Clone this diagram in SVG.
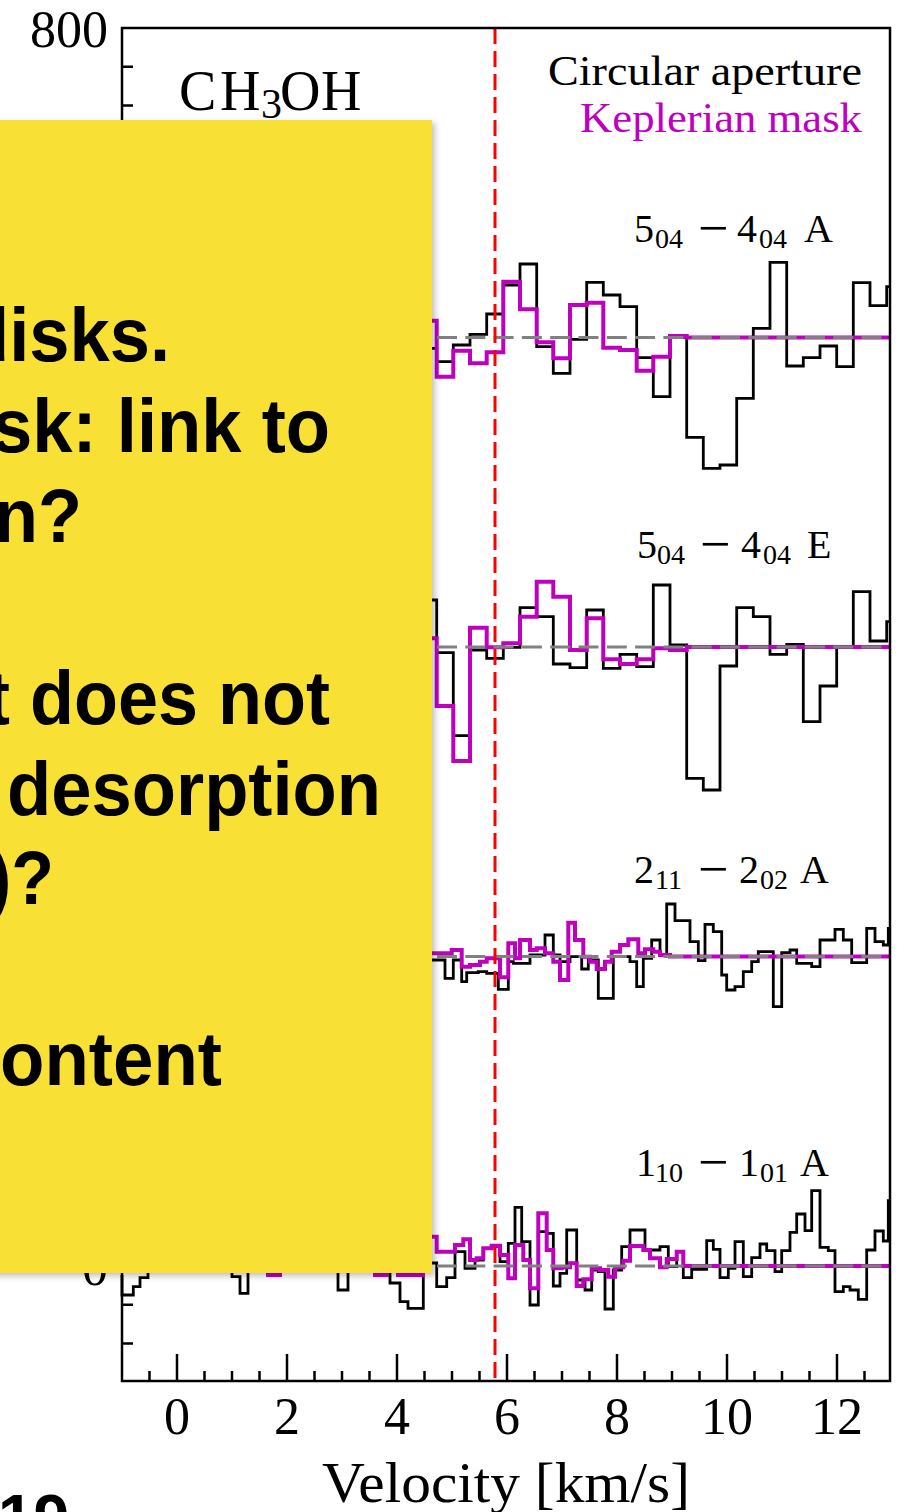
<svg xmlns="http://www.w3.org/2000/svg" width="908" height="1512" viewBox="0 0 908 1512">
<defs>
<style>
.serif{font-family:"Liberation Serif","Times New Roman",serif;fill:#000}
.tick{font-size:52px}
.lbl{font-size:40px}
.sub{font-size:28px}
.mn{font-size:54px}
.blk{fill:none;stroke:#000;stroke-width:2.8}
.mag{fill:none;stroke:#BF00BF;stroke-width:4}
.base{fill:none;stroke:#808080;stroke-width:3;stroke-dasharray:20 8.3}
.ax{fill:none;stroke:#000;stroke-width:2.5}
.note{font-family:"Liberation Sans",Arial,sans-serif;font-weight:bold;font-size:76px;fill:#000}
</style>
<filter id="sh" x="-5%" y="-5%" width="115%" height="115%">
<feDropShadow dx="3" dy="3" stdDeviation="3" flood-color="#000" flood-opacity="0.25"/>
</filter>
</defs>
<rect width="908" height="1512" fill="#fff"/>

<g id="spectra">
<g id="panel1">
<path class="blk" d="M420,348.3 H436.7 V361.7 H453.3 V345 H470 V334.3 H486.7 V314 H503.3 V285 H520 V264 H536.7 V346.7 H553.3 V373.3 H570 V339.3 H586.7 V282.3 H603.3 V295 H620 V306.7 H636.7 V357.7 H653.3 V396.7 H670 V337.3 H686.7 V437.3 H703.3 V468.3 H720 V465 H736.7 V398.3 H753.3 V328.3 H770 V262.3 H786.7 V366 H803.3 V357.7 H820 V346 H836.7 V366.7 H853.3 V282.7 H870 V305.7 H886.7 V286.7 H890"/>
<path class="mag" d="M420,320.7 H436.7 V376.7 H453.3 V350.7 H470 V363.3 H486.7 V352.3 H503.3 V281.7 H520 V309.3 H536.7 V342.3 H553.3 V358.3 H570 V305 H586.7 V302.7 H603.3 V347.7 H620 V350 H636.7 V370.7 H653.3 V356.7 H670 V336 H686.7 V337.5 H890"/>
<path class="base" d="M125.7,337.5 H890"/>
</g>
<g id="panel2">
<path class="blk" d="M420,600 H436.7 V652.7 H453.3 V735.7 H470 V650 H486.7 V658.3 H503.3 V647.3 H520 V607.7 H536.7 V616.7 H553.3 V664 H570 V667.7 H586.7 V610 H603.3 V668.3 H620 V654.3 H636.7 V666.7 H653.3 V585 H670 V645 H686.7 V778.3 H703.3 V790 H720 V666 H736.7 V607.7 H753.3 V616.7 H770 V654.3 H786.7 V644.3 H803.3 V721.7 H820 V686 H836.7 V647.3 H853.3 V591.7 H870 V641 H886.7 V621.7 H890"/>
<path class="mag" d="M420,638.3 H436.7 V706 H453.3 V761 H470 V627.7 H486.7 V647.3 H503.3 V643.3 H520 V616.7 H536.7 V581.7 H553.3 V596.7 H570 V650 H586.7 V618.3 H603.3 V659.3 H620 V664 H636.7 V659.3 H653.3 V648.3 H670 V650 H686.7 V647 H890"/>
<path class="base" d="M125.7,647 H890"/>
</g>
<g id="panel3">
<path class="blk" d="M420,960 H445 V978.3 H453.3 V960 H461.7 V981.7 H466.7 V972.7 H478.3 V971.7 H486.7 V973.3 H498.3 V989.3 H508.3 V961.7 H513.3 V963.3 H530 V955 H545 V935 H553.3 V955 H560 V961.7 H570 V956.7 H581.7 V969 H588.3 V960 H598.3 V998.3 H613.3 V956.7 H630 V961.7 H636.7 V986.7 H643.3 V958.3 H651.7 V940 H660 V955 H666.7 V904 H675 V920.7 H690 V941.7 H698.3 V960.7 H705 V924.3 H713.3 V931.7 H721.7 V975 H726.7 V990 H735 V986.7 H743.3 V971.7 H751.7 V961.7 H758.3 V951.7 H773.3 V1006.7 H781.7 V952.7 H790 V950 H796.7 V963.3 H811.7 V966.7 H820 V940 H835 V929.3 H843.3 V940 H851.7 V962.7 H866.7 V928.3 H875 V941.7 H883.3 V945 H888.3 V928.3 H890"/>
<path class="mag" d="M420,953.3 H451.7 V950 H461.7 V966.7 H470 V965 H480 V961.7 H486.7 V958.3 H500 V977.3 H508.3 V943.3 H515 V958.3 H520 V940 H530 V950 H536.7 V948.3 H545 V953.3 H553.3 V961.7 H560 V980 H568.3 V922.7 H575 V940 H583.3 V956.7 H590 V961.7 H596.7 V969 H605 V961.7 H611.7 V951.7 H620 V945 H628.3 V939.3 H638.3 V953.3 H645 V949.3 H653.3 V951.7 H660 V955 H670 V956.5 H890"/>
<path class="base" d="M125.7,956.5 H890"/>
</g>
<g id="panel4">
<path class="blk" d="M122,1275 V1295 H133.3 V1286.7 H140 V1277.7 H148 V1262 H232 V1276.7 H240 V1293.3 H248 V1262 H338 V1290 H348 V1262 H390 V1283 H400 V1301.7 H408 V1308.3 H423.3 V1263 H436.7 V1286.7 H446.7 V1277.7 H455 V1251.7 H465 V1268.3 H475 V1260 H483.3 V1248.3 H491.7 V1246.7 H500 V1261.7 H508.3 V1243.3 H515 V1207.3 H521.7 V1241.7 H530 V1305 H538.3 V1231.7 H546.7 V1233.3 H553.3 V1286 H560 V1273.3 H566.7 V1230 H576.7 V1280 H585 V1290 H591.7 V1270 H598.3 V1271.7 H605 V1309 H613.3 V1270 H621.7 V1246.7 H630 V1230 H645 V1250 H660 V1246.7 H668.3 V1266.7 H676.7 V1251.7 H683.3 V1277.7 H691.7 V1269.3 H706.7 V1240.7 H713.3 V1249.3 H720 V1277.7 H728.3 V1268.3 H735 V1241.7 H743.3 V1276.7 H751.7 V1257.7 H760 V1244 H766.7 V1250.7 H775 V1271.7 H781.7 V1250.7 H790 V1232.3 H796.7 V1214 H805 V1230.7 H811.7 V1190.7 H820 V1247.3 H828.3 V1250.7 H835 V1291.7 H843.3 V1286.7 H850 V1290 H858.3 V1299.3 H866.7 V1250 H875 V1231 H883.3 V1241 H888.3 V1200.7 H890"/>
<path class="mag" d="M260,1262 H268 V1275 H280 V1262 H375 V1275 H387 V1262 H398 V1275 H423 V1262 H430 V1236.7 H436.7 V1251.7 H455 V1245 H463.3 V1239.3 H470 V1260 H476.7 V1258.3 H483.3 V1248.3 H491.7 V1245.7 H500 V1255 H508.3 V1278.3 H515 V1245 H523.3 V1260 H530 V1288.3 H538.3 V1213.3 H546.7 V1250 H553.3 V1268.3 H561.7 V1267.3 H570 V1263.3 H576.7 V1286 H583.3 V1279.3 H591.7 V1268.3 H600 V1270 H608.3 V1276.7 H615 V1267.3 H623.3 V1260.7 H630 V1246 H643.3 V1250 H650 V1258.3 H660 V1267.3 H666.7 V1259 H676.7 V1251.7 H683.3 V1266 H890"/>
<path class="base" d="M125.7,1266 H890"/>
</g>
<path id="vsys" d="M495,28 V1381" fill="none" stroke="#FF0000" stroke-width="3" stroke-dasharray="16 7"/>
</g>

<g id="axes">
<rect class="ax" x="122" y="28" width="768" height="1353"/>
<path class="ax" d="M177,1381 v-27 M287,1381 v-27 M397,1381 v-27 M507,1381 v-27 M617,1381 v-27 M727,1381 v-27 M837,1381 v-27"/>
<path class="ax" d="M149.5,1381 v-10 M204.5,1381 v-10 M232,1381 v-10 M259.5,1381 v-10 M314.5,1381 v-10 M342,1381 v-10 M369.5,1381 v-10 M424.5,1381 v-10 M452,1381 v-10 M479.5,1381 v-10 M534.5,1381 v-10 M562,1381 v-10 M589.5,1381 v-10 M644.5,1381 v-10 M672,1381 v-10 M699.5,1381 v-10 M754.5,1381 v-10 M782,1381 v-10 M809.5,1381 v-10 M864.5,1381 v-10"/>
<path class="ax" d="M122,1343.4 h11 M122,1304.7 h11 M122,1266 h27 M122,1227.3 h11 M122,1188.6 h11 M122,1149.9 h11 M122,1111.25 h27 M122,1072.6 h11 M122,1033.9 h11 M122,995.2 h11 M122,956.5 h27 M122,917.8 h11 M122,879.1 h11 M122,840.4 h11 M122,801.75 h27 M122,763.1 h11 M122,724.4 h11 M122,685.7 h11 M122,647 h27 M122,608.3 h11 M122,569.6 h11 M122,530.9 h11 M122,492.25 h27 M122,453.6 h11 M122,414.9 h11 M122,376.2 h11 M122,337.5 h27 M122,298.8 h11 M122,260.1 h11 M122,221.4 h11 M122,182.75 h27 M122,144.1 h11 M122,105.4 h11 M122,66.7 h11"/>
<g class="serif tick">
<text x="108" y="47" text-anchor="end">800</text>
<text x="108" y="1285" text-anchor="end">0</text>
<text x="177" y="1434" text-anchor="middle">0</text>
<text x="287" y="1434" text-anchor="middle">2</text>
<text x="397" y="1434" text-anchor="middle">4</text>
<text x="507" y="1434" text-anchor="middle">6</text>
<text x="617" y="1434" text-anchor="middle">8</text>
<text x="727" y="1434" text-anchor="middle">10</text>
<text x="837" y="1434" text-anchor="middle">12</text>
</g>
<text id="xlabel" class="serif" x="322" y="1502" font-size="57" textLength="368" lengthAdjust="spacingAndGlyphs">Velocity [km/s]</text>
</g>

<g id="labels" class="serif">
<text id="molecule" y="110" font-size="56"><tspan x="179">C</tspan><tspan x="220">H</tspan><tspan x="261" dy="8" font-size="42">3</tspan><tspan x="280" dy="-8">O</tspan><tspan x="321">H</tspan></text>
<text id="legend1" x="548" y="85" font-size="42" textLength="314" lengthAdjust="spacingAndGlyphs">Circular aperture</text>
<text id="legend2" x="580" y="131.7" font-size="42" style="fill:#BF00BF" textLength="282" lengthAdjust="spacingAndGlyphs">Keplerian mask</text>
<text id="t1" class="lbl" y="242"><tspan x="634">5</tspan><tspan class="sub" x="655" dy="6">04</tspan><tspan class="mn" x="698" dy="-2">−</tspan><tspan x="737" dy="-4">4</tspan><tspan class="sub" x="759" dy="6">04</tspan><tspan x="804" dy="-6">A</tspan></text>
<text id="t2" class="lbl" y="558"><tspan x="637">5</tspan><tspan class="sub" x="657" dy="6">04</tspan><tspan class="mn" x="700" dy="-2">−</tspan><tspan x="741" dy="-4">4</tspan><tspan class="sub" x="763" dy="6">04</tspan><tspan x="807" dy="-6">E</tspan></text>
<text id="t3" class="lbl" y="883"><tspan x="634">2</tspan><tspan class="sub" x="655" dy="6">11</tspan><tspan class="mn" x="698" dy="-2">−</tspan><tspan x="739" dy="-4">2</tspan><tspan class="sub" x="760" dy="6">02</tspan><tspan x="800" dy="-6">A</tspan></text>
<text id="t4" class="lbl" y="1176"><tspan x="636">1</tspan><tspan class="sub" x="655" dy="6">10</tspan><tspan class="mn" x="698" dy="-2">−</tspan><tspan x="739" dy="-4">1</tspan><tspan class="sub" x="760" dy="6">01</tspan><tspan x="800" dy="-6">A</tspan></text>
</g>

<g id="note">
<rect x="-10" y="120" width="442" height="1153" fill="#F8E034" filter="url(#sh)"/>
<text class="note" x="-35" y="361" textLength="205" lengthAdjust="spacingAndGlyphs">disks.</text>
<text class="note" x="-8" y="452" textLength="338" lengthAdjust="spacingAndGlyphs">sk: link to</text>
<text class="note" x="-6" y="542" textLength="88" lengthAdjust="spacingAndGlyphs">n?</text>
<text class="note" x="-14" y="724" textLength="344" lengthAdjust="spacingAndGlyphs">t does not</text>
<text class="note" x="7" y="815" textLength="374" lengthAdjust="spacingAndGlyphs">desorption</text>
<text class="note" x="-12" y="904" textLength="66" lengthAdjust="spacingAndGlyphs">)?</text>
<text class="note" x="0" y="1085" textLength="222" lengthAdjust="spacingAndGlyphs">ontent</text>
</g>
<text id="slide-number" class="note" x="-2" y="1540" style="font-size:64px">19</text>
</svg>
